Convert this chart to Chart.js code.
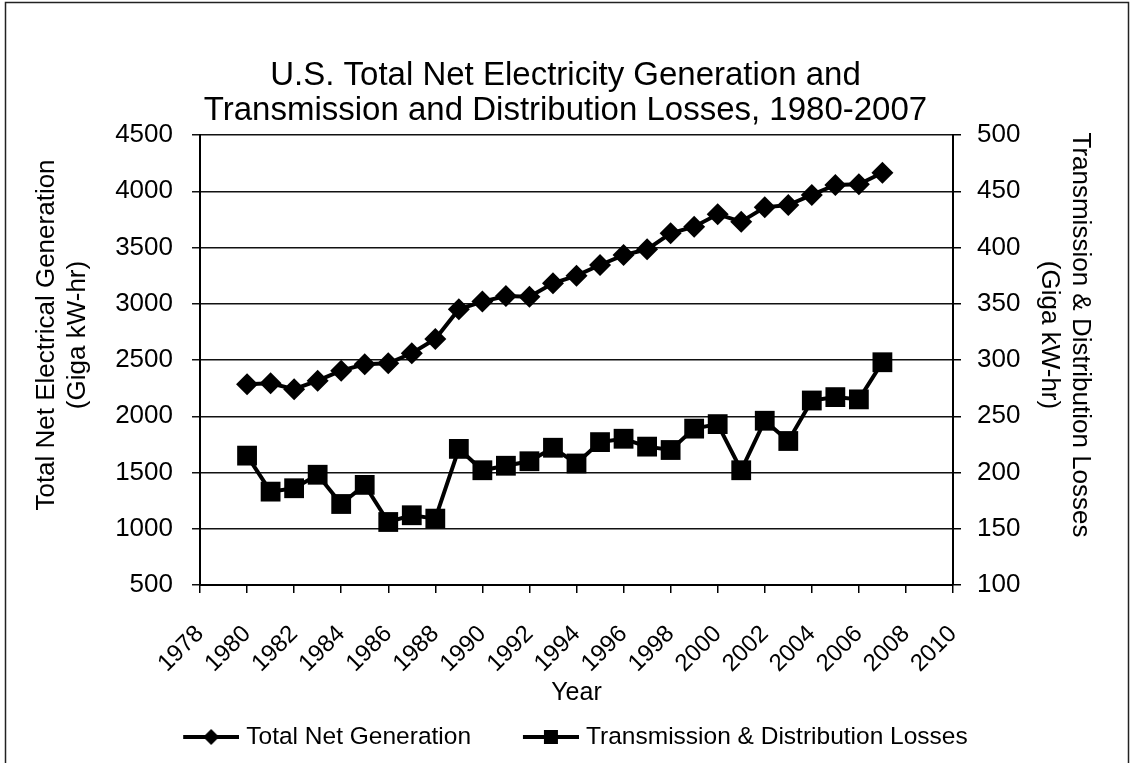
<!DOCTYPE html>
<html>
<head>
<meta charset="utf-8">
<script src="https://cdn.jsdelivr.net/npm/chart.js@4.4.1/dist/chart.umd.min.js"></script>
<style>
html, body { margin: 0; padding: 0; background: #fff; }
#wrap { width: 1131px; height: 763px; }
</style>
</head>
<body>
<div id="wrap"><canvas id="c" width="1131" height="763"></canvas></div>
<script>
// ---- data ----
const years = [1980, 1981, 1982, 1983, 1984, 1985, 1986, 1987, 1988, 1989,
               1990, 1991, 1992, 1993, 1994, 1995, 1996, 1997, 1998, 1999,
               2000, 2001, 2002, 2003, 2004, 2005, 2006, 2007];
const totalNetGeneration = [2284, 2293, 2240, 2316, 2405, 2462, 2471, 2560, 2687, 2951,
                            3019, 3069, 3063, 3182, 3250, 3344, 3433, 3484, 3626, 3685,
                            3795, 3730, 3857, 3878, 3967, 4056, 4062, 4165];
const tdLosses = [215, 183, 186, 198, 172, 189, 156, 162, 159, 221,
                  202, 206, 210, 222, 208, 227, 230, 223, 220, 239,
                  243, 202, 246, 228, 264, 267, 265, 298];
const seriesNames = ['Total Net Generation', 'Transmission & Distribution Losses'];
const titleLines = ['U.S. Total Net Electricity Generation and',
                    'Transmission and Distribution Losses, 1980-2007'];
const leftAxisTitle = ['Total Net Electrical Generation', '(Giga kW-hr)'];
const rightAxisTitle = ['Transmission & Distribution Losses', '(Giga kW-hr)'];
const xAxisTitle = 'Year';

const FONT = '"Liberation Sans", Arial, Helvetica, sans-serif';

// legend icon: transparent lead-in on the left, then line with marker
function makeIcon(kind) {
  const c = document.createElement('canvas');
  c.width = 93; c.height = 20;
  const g = c.getContext('2d');
  const x0 = 37, len = 56, mid = x0 + 28;
  g.strokeStyle = '#000'; g.lineWidth = 4;
  g.beginPath(); g.moveTo(x0, 10); g.lineTo(x0 + len, 10); g.stroke();
  g.fillStyle = '#000'; g.beginPath();
  if (kind === 'diamond') {
    g.moveTo(mid, 2); g.lineTo(mid + 8, 10); g.lineTo(mid, 18); g.lineTo(mid - 8, 10); g.closePath();
  } else {
    g.rect(mid - 7, 3, 14, 14);
  }
  g.fill();
  return c;
}
const legendIcons = [makeIcon('diamond'), makeIcon('square')];

const framePlugin = {
  id: 'frame',
  beforeDraw(chart) {
    const ctx = chart.ctx;
    ctx.save();
    ctx.fillStyle = '#fff';
    ctx.fillRect(0, 0, chart.width, chart.height);
    ctx.strokeStyle = '#222';
    ctx.lineWidth = 1.5;
    ctx.strokeRect(5.5, 2.5, 1123, 800);
    ctx.restore();
  }
};

const textPlugin = {
  id: 'texts',
  afterDraw(chart) {
    const ctx = chart.ctx;
    ctx.save();
    ctx.fillStyle = '#000';
    ctx.textAlign = 'center';
    ctx.textBaseline = 'middle';
    ctx.font = '33px ' + FONT;
    titleLines.forEach((t, i) => ctx.fillText(t, 565.5, 76 + i * 35));
    ctx.font = '26px ' + FONT;
    ctx.save();
    ctx.translate(47, 335);
    ctx.rotate(-Math.PI / 2);
    ctx.fillText(leftAxisTitle[0], 0, 0);
    ctx.fillText(leftAxisTitle[1], 0, 31);
    ctx.restore();
    ctx.save();
    ctx.translate(1080, 335);
    ctx.rotate(Math.PI / 2);
    ctx.fillText(rightAxisTitle[0], 0, 0);
    ctx.fillText(rightAxisTitle[1], 0, 31);
    ctx.restore();
    ctx.restore();
  }
};

new Chart(document.getElementById('c'), {
  type: 'line',
  data: {
    datasets: [
      {
        label: seriesNames[0],
        data: years.map((yr, i) => ({ x: yr, y: totalNetGeneration[i] })),
        yAxisID: 'y',
        borderColor: '#000',
        backgroundColor: '#000',
        borderWidth: 4,
        pointStyle: 'rectRot',
        pointRadius: 11,
        pointBorderWidth: 0,
        pointBackgroundColor: '#000',
        tension: 0
      },
      {
        label: seriesNames[1],
        data: years.map((yr, i) => ({ x: yr, y: tdLosses[i] })),
        yAxisID: 'y1',
        borderColor: '#000',
        backgroundColor: '#000',
        borderWidth: 4,
        pointStyle: 'rect',
        pointRadius: 14,
        pointBorderWidth: 0,
        pointBackgroundColor: '#000',
        tension: 0
      }
    ]
  },
  options: {
    responsive: false,
    animation: false,
    devicePixelRatio: 1,
    layout: { padding: { top: 135, left: 0, right: 12, bottom: 3.75 } },
    plugins: {
      title: { display: false },
      tooltip: { enabled: false },
      legend: {
        position: 'bottom',
        labels: {
          usePointStyle: true,
          pointStyleWidth: 82.75,
          padding: 20,
          color: '#000',
          font: { family: FONT, size: 24.5 },
          generateLabels(chart) {
            const items = Chart.defaults.plugins.legend.labels.generateLabels(chart);
            items.forEach((it, i) => { it.pointStyle = legendIcons[i]; });
            return items;
          }
        }
      }
    },
    scales: {
      x: {
        type: 'linear',
        position: 'bottom',
        min: 1978,
        max: 2010,
        afterFit(s) { s.height = 119.75; },
        border: { display: true, color: '#000', width: 2 },
        grid: { drawOnChartArea: false, drawTicks: true, tickLength: 8, color: '#000', lineWidth: 1.5 },
        ticks: {
          stepSize: 2,
          autoSkip: false,
          maxRotation: 45,
          minRotation: 45,
          padding: 27,
          color: '#000',
          font: { family: FONT, size: 24 },
          callback: v => String(v)
        },
        title: {
          display: true,
          text: xAxisTitle,
          color: '#000',
          font: { family: FONT, size: 25 },
          padding: { top: 0, bottom: -3 }
        }
      },
      y: {
        position: 'left',
        min: 500,
        max: 4500,
        afterFit(s) { s.width = 200; },
        border: { display: true, color: '#000', width: 2 },
        grid: { color: '#111', lineWidth: 1.5, tickLength: 8 },
        ticks: {
          stepSize: 500,
          padding: 19,
          color: '#000',
          font: { family: FONT, size: 26 },
          callback: v => String(v)
        }
      },
      y1: {
        position: 'right',
        min: 100,
        max: 500,
        afterFit(s) { s.width = 166; },
        border: { display: true, color: '#000', width: 2 },
        grid: { drawOnChartArea: false, color: '#000', lineWidth: 1.5, tickLength: 8 },
        ticks: {
          stepSize: 50,
          padding: 16,
          color: '#000',
          font: { family: FONT, size: 26 },
          callback: v => String(v)
        }
      }
    }
  },
  plugins: [framePlugin, textPlugin]
});
</script>
</body>
</html>
